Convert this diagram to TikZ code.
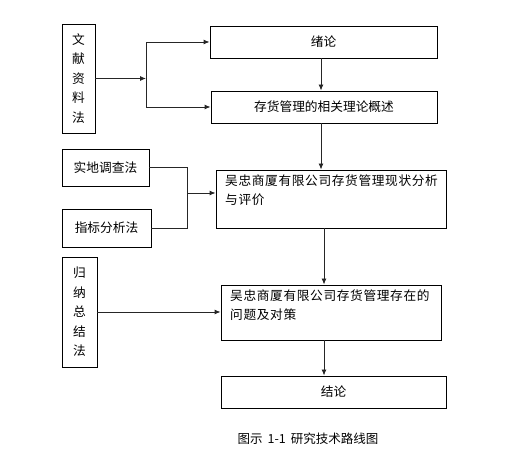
\documentclass[tikz,border=0pt]{standalone}
\usepackage{fontspec}
\setmainfont{Noto Sans CJK SC}
\usetikzlibrary{arrows.meta}
\begin{document}
\begin{tikzpicture}[x=1pt,y=-1pt,
  box/.style={draw,line width=0.9pt,inner sep=0pt,font=\fontsize{12.7}{15}\selectfont},
  vbox/.style={box,align=center,font=\fontsize{12.7}{19.5}\selectfont},
  txt/.style={inner sep=0pt,anchor=north west,align=left,font=\fontsize{12.7}{19}\selectfont\addfontfeature{LetterSpace=5}},
  conn/.style={line width=0.9pt,draw=black!85},
  arr/.style={conn,-{Latex[length=6pt,width=5pt]}}]
\useasboundingbox (0,0) rectangle (523,454);
% boxes
\node[vbox,minimum width=33,minimum height=109] (wx) at (78.5,78.5) {文\\献\\资\\料\\法};
\node[box,minimum width=227,minimum height=32] (xl) at (323.5,42) {绪论};
\node[box,minimum width=226,minimum height=32] (lz) at (324,107) {存货管理的相关理论概述};
\node[box,minimum width=87,minimum height=37] (sd) at (105.5,167.5) {实地调查法};
\node[box,minimum width=89,minimum height=38] (zb) at (106.5,228) {指标分析法};
\node[box,minimum width=230,minimum height=58] (r1) at (331,199) {};
\node[txt] (r1t) at (225,175) {吴忠商厦有限公司存货管理现状分析\\与评价};
\node[vbox,minimum width=35,minimum height=110] (gn) at (79.5,312) {归\\纳\\总\\结\\法};
\node[box,minimum width=220,minimum height=55] (r2) at (331,312.5) {};
\node[txt] (r2t) at (230,290) {吴忠商厦有限公司存货管理存在的\\问题及对策};
\node[box,minimum width=225,minimum height=32] (jl) at (333.5,392) {结论};
\node[font=\fontsize{12.5}{14}\selectfont,inner sep=0pt] (cap) at (308,439) {图示\hspace{5pt}1-1\hspace{5pt}研究技术路线图};
% junctions
\coordinate (j1) at (146,78.5);
\coordinate (j2) at (187,193);
\coordinate (v1) at (321,0);
\coordinate (v2) at (324,0);
% connectors
\draw[arr] (wx.east) -- (j1);
\draw[arr] (j1) |- (xl.west);
\draw[arr] (j1) |- (lz.west);
\draw[arr] (xl.south -| v1) -- (lz.north -| v1);
\draw[arr] (lz.south -| v1) -- (r1.north -| v1);
\draw[conn] (sd.east) -| (j2);
\draw[conn] (zb.east) -| (j2);
\draw[arr] (j2) -- (j2 -| r1.west);
\draw[arr] (r1.south -| v2) -- (r2.north -| v2);
\draw[arr] (gn.east) -- (gn.east -| r2.west);
\draw[arr] (r2.south -| v2) -- (jl.north -| v2);
\end{tikzpicture}
\end{document}
